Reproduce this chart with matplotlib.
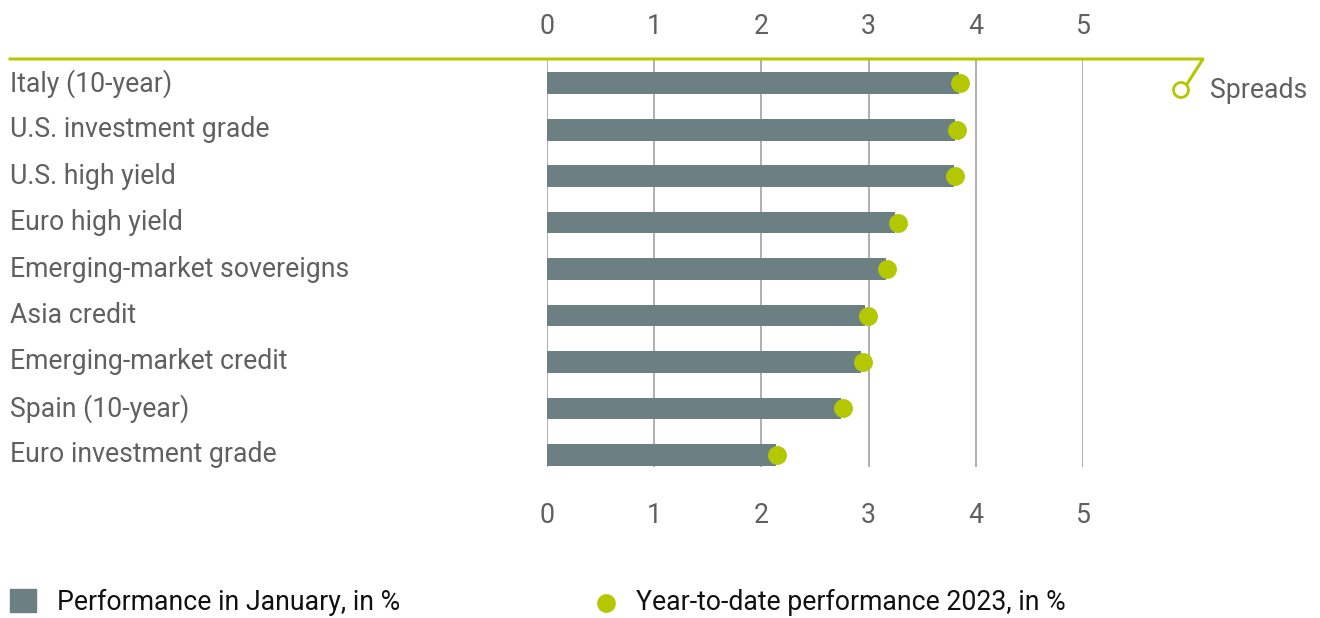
import matplotlib
matplotlib.use("Agg")
import matplotlib.pyplot as plt
from matplotlib.lines import Line2D
from matplotlib.patches import Circle, Rectangle
from matplotlib.transforms import blended_transform_factory

categories = ["Italy (10-year)", "U.S. investment grade", "U.S. high yield",
              "Euro high yield", "Emerging-market sovereigns", "Asia credit",
              "Emerging-market credit", "Spain (10-year)", "Euro investment grade"]
january = [3.84, 3.81, 3.80, 3.25, 3.16, 2.97, 2.93, 2.74, 2.14]
ytd = [3.85, 3.82, 3.81, 3.27, 3.17, 2.99, 2.95, 2.76, 2.15]
ticks = [0, 1, 2, 3, 4, 5]

GREEN = "#b3c800"
BAR = "#6c7f83"
GRID = "#9a9a9a"
TXT = "#606060"
FONT = "Roboto"
FS = 19.2

W, H = 1320, 618
fig = plt.figure(figsize=(W / 100, H / 100), dpi=100)

def fx(px):
    return px / W

def fy(py):
    return 1 - py / H

x0, x5 = 547, 1083
ytop, ybot = 59, 467
ax = fig.add_axes([fx(x0), fy(ybot), fx(x5) - fx(x0), fy(ytop) - fy(ybot)])
ax.set_xlim(0, 5)
n = len(categories)
ypos = list(range(n))
ax.set_ylim(8.26, -0.52)
for s in ax.spines.values():
    s.set_visible(False)
ax.set_yticks([])
ax.set_xticks(ticks)
ax.set_xticklabels([str(t) for t in ticks], fontsize=FS, color=TXT, family=FONT)
ax.tick_params(axis="x", length=0, pad=25.5)
ax.xaxis.grid(True, color=GRID, linewidth=1.1)
ax.set_axisbelow(True)

sec = ax.secondary_xaxis("top")
sec.set_xticks(ticks)
sec.set_xticklabels([str(t) for t in ticks], fontsize=FS, color=TXT, family=FONT)
sec.tick_params(axis="x", length=0, pad=14)
for s in sec.spines.values():
    s.set_visible(False)

ax.barh(ypos, january, height=0.47, color=BAR, zorder=2)
ax.scatter(ytd, ypos, s=185, color=GREEN, zorder=3, linewidths=0)

tr = blended_transform_factory(fig.transFigure, ax.transData)
for y, c in zip(ypos, categories):
    ax.text(fx(10), y, c, transform=tr, ha="left", va="center",
            fontsize=FS, color=TXT, family=FONT)

# Spreads line
fig.add_artist(Line2D([fx(10), fx(1203), fx(1187)], [fy(59), fy(59), fy(84)],
                      color=GREEN, linewidth=2.2, transform=fig.transFigure))
fig.add_artist(Circle((1181, H - 90), 7.5, transform=None, facecolor="white",
                      edgecolor=GREEN, linewidth=2, zorder=5))
fig.text(fx(1210), fy(90), "Spreads", ha="left", va="center", fontsize=FS,
         color=TXT, family=FONT)

# Legend
fig.add_artist(Rectangle((fx(10), fy(612)), fx(36) - fx(10), fy(589) - fy(612),
                         transform=fig.transFigure, color=BAR))
fig.text(fx(57), fy(602), "Performance in January, in %", ha="left", va="center",
         fontsize=FS, color="#111111", family=FONT)
fig.add_artist(Line2D([fx(606)], [fy(603)], marker="o", markersize=13.5,
                      color=GREEN, markeredgewidth=0, transform=fig.transFigure))
fig.text(fx(636), fy(602), "Year-to-date performance 2023, in %", ha="left",
         va="center", fontsize=FS, color="#111111", family=FONT)

fig.savefig("out.png", dpi=100)
